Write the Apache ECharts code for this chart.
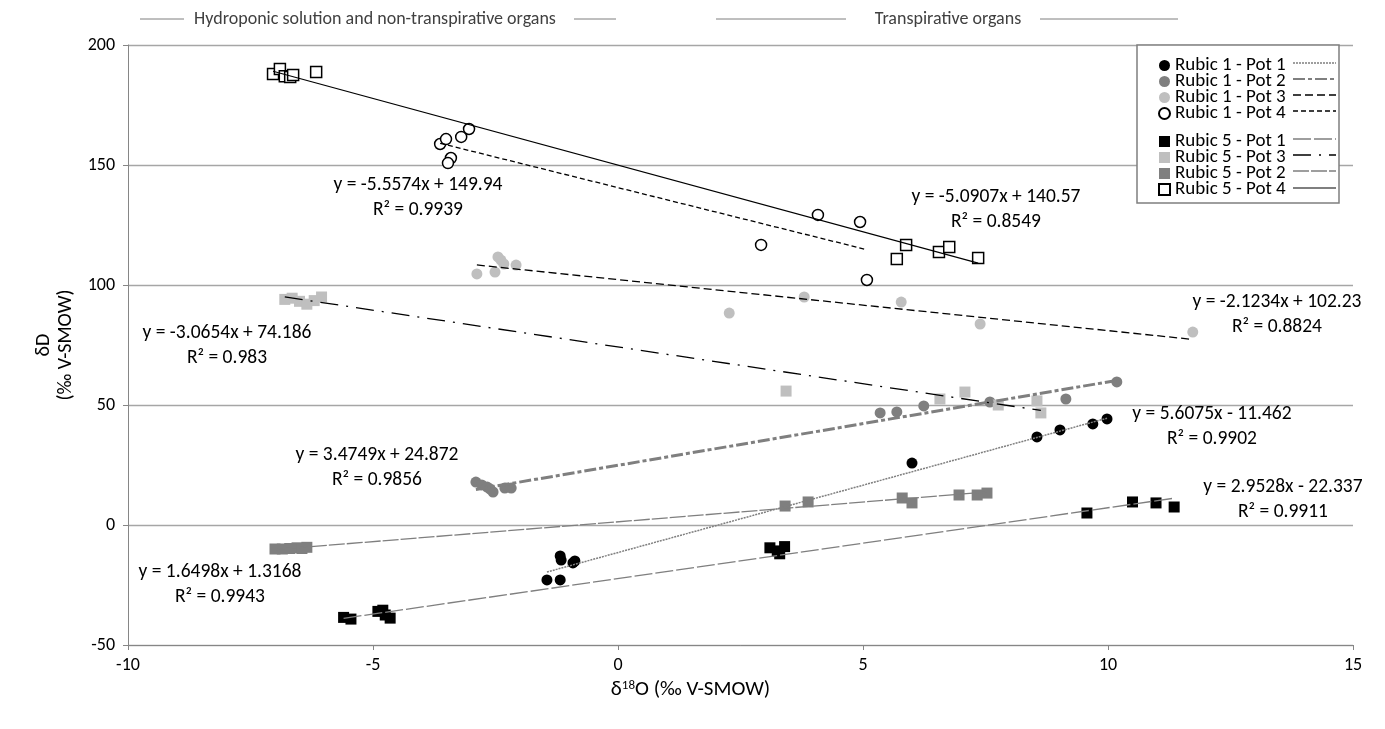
<!DOCTYPE html>
<html>
<head>
<meta charset="utf-8">
<script src="https://cdn.jsdelivr.net/npm/echarts@6/dist/echarts.min.js"></script>
<style>
  html, body { margin: 0; padding: 0; background: #fff; }
  #chart { width: 1385px; height: 729px; }
</style>
</head>
<body>
<div id="chart"></div>
<script>
// series names, in legend order
const seriesNames = [
  "Rubic 1 - Pot 1", "Rubic 1 - Pot 2", "Rubic 1 - Pot 3", "Rubic 1 - Pot 4",
  "Rubic 5 - Pot 1", "Rubic 5 - Pot 3", "Rubic 5 - Pot 2", "Rubic 5 - Pot 4"
];

// δ18O / δD values
const r1p1X = [-1.45, -1.18, -1.18, -1.16, -0.92, -0.88, 6.0, 8.55, 9.02, 9.69, 9.98];
const r1p1Y = [-22.9, -22.9, -12.9, -14.6, -15.8, -15.0, 25.8, 36.7, 39.6, 42.1, 44.2];

const r1p2X = [-2.9, -2.78, -2.67, -2.61, -2.55, -2.31, -2.18, 5.35, 5.69, 6.24, 7.59, 9.14, 10.18];
const r1p2Y = [17.9, 16.7, 15.8, 15.0, 13.75, 15.4, 15.4, 46.7, 47.1, 49.6, 51.25, 52.5, 59.6];

const r1p3X = [-2.88, -2.51, -2.45, -2.39, -2.33, -2.08, 2.27, 3.8, 5.78, 7.39, 11.73];
const r1p3Y = [104.6, 105.4, 111.7, 110.4, 108.75, 108.3, 88.3, 95.0, 92.9, 83.75, 80.4];

const r1p4X = [-3.63, -3.51, -3.2, -3.04, -3.41, -3.47, 2.92, 4.08, 4.94, 5.08];
const r1p4Y = [158.75, 160.8, 161.7, 165.0, 152.9, 150.8, 116.7, 129.2, 126.25, 102.1];

const r5p1X = [-5.6, -5.45, -4.9, -4.8, -4.75, -4.65, 3.1, 3.25, 3.3, 3.4, 9.57, 10.5, 10.98, 11.35];
const r5p1Y = [-38.5, -39.2, -36.0, -35.5, -37.5, -38.8, -9.5, -10.8, -12.0, -9.0, 5.0, 9.6, 9.2, 7.5];

const r5p3X = [-6.8, -6.65, -6.5, -6.35, -6.2, -6.05, 3.43, 6.57, 7.08, 7.76, 8.55, 8.63];
const r5p3Y = [94.0, 94.5, 93.2, 92.0, 93.5, 95.0, 55.8, 52.5, 55.4, 50.0, 51.7, 46.7];

const r5p2X = [-7.0, -6.85, -6.7, -6.55, -6.45, -6.35, 3.41, 3.88, 5.8, 6.0, 6.96, 7.33, 7.53];
const r5p2Y = [-10.0, -10.0, -9.8, -9.5, -9.8, -9.3, 7.9, 9.6, 11.25, 9.2, 12.5, 12.5, 13.3];

const r5p4X = [-7.04, -6.9, -6.8, -6.69, -6.63, -6.16, 5.69, 5.88, 6.55, 6.76, 7.35];
const r5p4Y = [187.9, 190.0, 187.0, 186.7, 187.5, 188.75, 110.8, 116.7, 113.75, 115.8, 111.25];

const allX = [r1p1X, r1p2X, r1p3X, r1p4X, r5p1X, r5p3X, r5p2X, r5p4X];
const allY = [r1p1Y, r1p2Y, r1p3Y, r1p4Y, r5p1Y, r5p3Y, r5p2Y, r5p4Y];

// linear trendlines as printed on the chart
const slopes = [5.6075, 3.4749, -2.1234, -5.0907, 2.9528, -3.0654, 1.6498, -5.5574];
const intercepts = [-11.462, 24.872, 102.23, 140.57, -22.337, 74.186, 1.3168, 149.94];
const eqTexts = [
  "y = 5.6075x - 11.462", "y = 3.4749x + 24.872", "y = -2.1234x + 102.23", "y = -5.0907x + 140.57",
  "y = 2.9528x - 22.337", "y = -3.0654x + 74.186", "y = 1.6498x + 1.3168", "y = -5.5574x + 149.94"
];
const r2Texts = ["R² = 0.9902", "R² = 0.9856", "R² = 0.8824", "R² = 0.8549",
  "R² = 0.9911", "R² = 0.983", "R² = 0.9943", "R² = 0.9939"];

const xTicks = { min: -10, max: 15, interval: 5 };
const yTicks = { min: -50, max: 200, interval: 50 };

const FONT = 'Carlito, Calibri, Lato, sans-serif';

// marker looks
const markerStyle = [
  { symbol: "circle", color: "#000000", border: "#000000" },
  { symbol: "circle", color: "#7f7f7f", border: "#7f7f7f" },
  { symbol: "circle", color: "#bfbfbf", border: "#bfbfbf" },
  { symbol: "circle", color: "#ffffff", border: "#000000" },
  { symbol: "rect", color: "#000000", border: "#000000" },
  { symbol: "rect", color: "#bfbfbf", border: "#bfbfbf" },
  { symbol: "rect", color: "#7f7f7f", border: "#7f7f7f" },
  { symbol: "rect", color: "#ffffff", border: "#000000" }
];
// trendline looks
const lineStyles = [
  { color: "#7f7f7f", width: 1.5, type: [2, 1] },
  { color: "#7f7f7f", width: 3, type: [12, 3, 4, 3] },
  { color: "#000000", width: 1.3, type: [8, 4] },
  { color: "#000000", width: 1.3, type: [5, 3] },
  { color: "#7f7f7f", width: 1.3, type: [18, 3] },
  { color: "#000000", width: 1.3, type: [18, 8, 2, 8] },
  { color: "#7f7f7f", width: 1.3, type: [16, 2] },
  { color: "#000000", width: 1.2, type: "solid" }
];
// where the equation labels sit (centre of the first line)
const eqPos = [[1212, 414], [377, 455], [1277, 302], [996, 197], [1283, 487], [227, 333], [220, 572], [418, 185]];

const chart = echarts.init(document.getElementById("chart"));

const series = [];
seriesNames.forEach((name, i) => {
  const m = markerStyle[i];
  series.push({
    name: name,
    type: "scatter",
    symbol: m.symbol,
    symbolSize: 11,
    itemStyle: { color: m.color, borderColor: m.border, borderWidth: m.color === "#ffffff" ? 1.5 : 0, opacity: 1 },
    data: allX[i].map((x, k) => [x, allY[i][k]]),
    z: 2
  });
});
seriesNames.forEach((name, i) => {
  const xs = allX[i];
  const x0 = Math.min(...xs);
  const x1 = Math.max(...xs);
  const ls = lineStyles[i];
  series.push({
    name: name + " trend",
    type: "line",
    showSymbol: false,
    silent: true,
    lineStyle: { color: ls.color, width: ls.width, type: ls.type },
    data: [[x0, slopes[i] * x0 + intercepts[i]], [x1, slopes[i] * x1 + intercepts[i]]],
    z: 3
  });
});

const graphic = [];
// equation labels
eqPos.forEach((p, i) => {
  graphic.push({
    type: "text", x: p[0], y: p[1] - 12.5, z: 10,
    style: { text: eqTexts[i] + "\n" + r2Texts[i], align: "center", verticalAlign: "top",
      font: '19.5px ' + FONT, fill: "#000", lineHeight: 25 }
  });
});
// header
const headerFont = '18px ' + FONT;
graphic.push(
  { type: "line", shape: { x1: 140, y1: 19, x2: 184, y2: 19 }, style: { stroke: "#7f7f7f", lineWidth: 1 } },
  { type: "text", x: 375, y: 19, style: { text: "Hydroponic solution and non-transpirative organs", align: "center", verticalAlign: "middle", font: headerFont, fill: "#404040" } },
  { type: "line", shape: { x1: 574, y1: 19, x2: 616, y2: 19 }, style: { stroke: "#7f7f7f", lineWidth: 1 } },
  { type: "line", shape: { x1: 716, y1: 19, x2: 846, y2: 19 }, style: { stroke: "#7f7f7f", lineWidth: 1 } },
  { type: "text", x: 948, y: 19, style: { text: "Transpirative organs", align: "center", verticalAlign: "middle", font: headerFont, fill: "#404040" } },
  { type: "line", shape: { x1: 1040, y1: 19, x2: 1178, y2: 19 }, style: { stroke: "#7f7f7f", lineWidth: 1 } }
);
// legend box and line samples
graphic.push({ type: "rect", shape: { x: 1137, y: 45, width: 202, height: 158 }, style: { fill: "#fff", stroke: "#7f7f7f", lineWidth: 1.5 }, z: 5 });
const legendRowY = [63, 79, 95, 111, 139, 155, 171, 188];
legendRowY.forEach((y, i) => {
  const ls = lineStyles[i];
  graphic.push({
    type: "line", z: 7,
    shape: { x1: 1293, y1: y, x2: 1336, y2: y },
    style: { stroke: ls.color, lineWidth: Math.min(ls.width, 2), lineDash: ls.type === "solid" ? null : ls.type }
  });
});

const legendText = { fontSize: 19, fontFamily: FONT, color: "#000" };
const option = {
  backgroundColor: "#fff",
  animation: false,
  textStyle: { fontFamily: FONT },
  grid: { left: 128, right: 32, top: 45, bottom: 84 },
  legend: [
    {
      data: seriesNames.slice(0, 4).map((n, i) => ({ name: n, icon: markerStyle[i].symbol })),
      orient: "vertical", left: 1153, top: 51, itemGap: -3, itemWidth: 11, itemHeight: 11,
      textStyle: legendText, selectedMode: false, z: 8
    },
    {
      data: seriesNames.slice(4).map((n, i) => ({ name: n, icon: markerStyle[i + 4].symbol })),
      orient: "vertical", left: 1153, top: 127, itemGap: -3, itemWidth: 11, itemHeight: 11,
      textStyle: legendText, selectedMode: false, z: 8
    }
  ],
  xAxis: {
    type: "value",
    min: xTicks.min, max: xTicks.max, interval: xTicks.interval,
    name: "{a|δ}{s|18}{a|O (‰ V-SMOW)}",
    nameLocation: "middle", nameGap: 34,
    nameTextStyle: { padding: [0, 100, 0, 0], rich: { a: { fontSize: 21, fontFamily: FONT, color: "#000" }, s: { fontSize: 13, fontFamily: FONT, color: "#000", verticalAlign: "top", padding: [0, 0, 9, 0] } } },
    axisLine: { onZero: false, lineStyle: { color: "#868686" } },
    axisTick: { show: true, length: 5, lineStyle: { color: "#868686" } },
    splitLine: { show: false },
    axisLabel: { fontSize: 18, color: "#000", margin: 11 }
  },
  yAxis: {
    type: "value",
    min: yTicks.min, max: yTicks.max, interval: yTicks.interval,
    name: "δD\n(‰ V-SMOW)",
    nameLocation: "middle", nameGap: 36, nameRotate: 90,
    nameTextStyle: { fontSize: 20, color: "#000", lineHeight: 22, align: "center" },
    axisLine: { show: true, onZero: false, lineStyle: { color: "#868686" } },
    axisTick: { show: true, length: 5, lineStyle: { color: "#868686" } },
    splitLine: { show: true, lineStyle: { color: "#a6a6a6", width: 1.3 } },
    axisLabel: { fontSize: 18, color: "#000", margin: 13 }
  },
  series: series,
  graphic: graphic
};
chart.setOption(option);
</script>
</body>
</html>
